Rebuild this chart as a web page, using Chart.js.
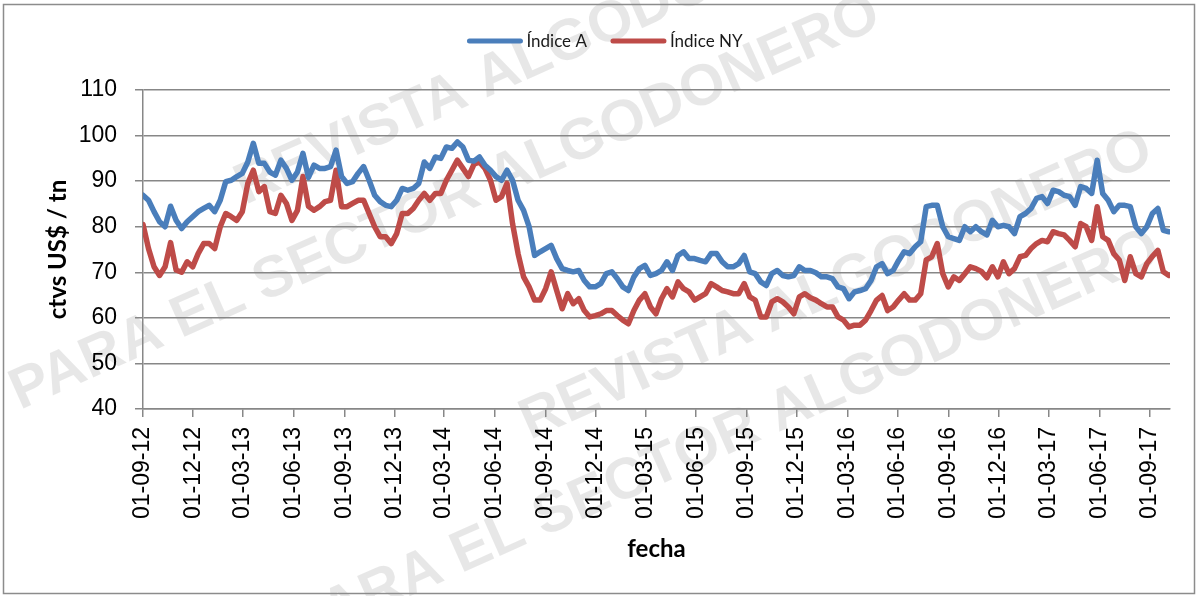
<!DOCTYPE html>
<html><head><meta charset="utf-8">
<script src="https://cdn.jsdelivr.net/npm/chart.js@4.4.1/dist/chart.umd.min.js"></script>
<style>html,body{margin:0;padding:0;background:#fff;}canvas{display:block;}</style>
</head><body>
<canvas id="c" width="1198" height="596"></canvas>
<script>
// ---- data ----
const startDate = '2012-09-01';   // first sample
const stepDays = 10;              // samples every 10 days
const indiceA = [86.9,85.8,83.3,81.1,80.0,84.5,81.4,79.6,81.1,82.2,83.3,84.0,84.7,83.3,85.8,89.9,90.2,91.0,91.7,94.2,
98.3,93.9,93.9,92.0,91.3,94.6,92.8,90.2,92.0,96.1,90.8,93.5,92.8,92.8,93.2,96.8,91.0,89.5,89.9,91.7,
93.2,90.2,86.9,85.5,84.7,84.4,85.8,88.4,88.0,88.4,89.5,94.2,92.8,95.3,95.0,97.5,97.2,98.6,97.5,94.6,
94.4,95.3,93.5,92.4,91.0,90.2,92.4,90.2,85.8,83.6,80.0,73.7,74.5,75.2,75.9,73.0,70.8,70.4,70.1,70.4,
68.2,66.8,66.8,67.5,69.7,70.1,68.6,66.8,66.0,69.0,70.8,71.5,69.3,69.7,70.4,72.3,70.4,73.7,74.5,73.0,
73.0,72.6,72.3,74.1,74.1,72.3,71.2,71.2,71.9,73.7,70.1,69.7,67.9,67.1,69.7,70.4,69.3,69.0,69.3,71.2,
70.4,70.4,69.9,69.0,69.0,68.6,66.8,66.4,64.2,65.7,66.0,66.4,68.2,71.2,71.9,69.7,70.4,72.6,74.5,74.1,
75.6,76.7,84.4,84.7,84.7,80.0,77.8,77.4,77.0,80.0,78.9,80.0,78.9,78.2,81.4,80.0,80.3,80.0,78.5,82.2,
82.9,84.0,86.2,86.6,85.1,88.0,87.7,86.9,86.6,84.7,88.8,88.4,87.3,94.6,87.3,85.8,83.3,84.7,84.7,84.4,
80.0,78.5,80.0,82.9,84.0,79.2,78.9];
const indiceNY = [80.5,75.2,71.2,69.3,71.2,76.5,70.5,70.0,72.3,71.2,74.1,76.3,76.3,75.2,80.0,82.9,82.2,81.4,83.3,89.5,
92.4,87.7,88.8,83.3,82.9,86.9,85.1,81.4,83.6,91.0,84.5,83.6,84.4,85.5,85.8,92.4,84.4,84.4,85.1,85.8,
85.8,82.9,80.0,77.8,77.8,76.3,78.5,82.9,82.9,84.0,85.8,87.3,85.8,87.3,87.3,90.2,92.4,94.6,92.8,91.0,
93.7,94.2,92.8,90.2,85.8,86.6,89.5,80.7,74.1,69.0,66.8,63.9,63.9,66.4,70.1,66.0,62.0,65.3,63.1,64.2,
61.6,60.2,60.5,60.9,61.6,61.6,60.5,59.5,58.7,61.6,63.9,65.3,62.4,60.9,64.2,66.4,64.6,67.9,66.4,65.7,
63.9,64.6,65.3,67.5,66.8,66.0,65.7,65.3,65.3,67.5,64.6,63.9,60.2,60.2,63.5,64.2,63.5,62.4,60.9,64.6,
65.3,64.4,63.9,63.1,62.4,62.4,60.2,59.5,58.0,58.4,58.4,59.5,61.6,63.9,64.9,61.6,62.4,63.9,65.3,63.9,
63.9,65.3,72.7,73.4,76.3,69.7,66.8,69.0,68.2,69.7,71.2,70.8,70.2,68.8,71.2,69.0,72.3,69.7,70.8,73.4,
73.7,75.2,76.3,77.0,76.7,78.9,78.5,78.2,77.0,75.6,80.7,80.0,77.0,84.4,77.8,77.0,74.1,72.7,68.2,73.4,
69.7,69.0,71.9,73.5,74.8,70.1,69.3];
const tickLabels = ['01-09-12','01-12-12','01-03-13','01-06-13','01-09-13','01-12-13','01-03-14','01-06-14',
'01-09-14','01-12-14','01-03-15','01-06-15','01-09-15','01-12-15','01-03-16','01-06-16','01-09-16',
'01-12-16','01-03-17','01-06-17','01-09-17'];
const seriesNames = ['Índice A','Índice NY'];
const yMin = 40, yMax = 110, yStep = 10;
const watermarkLines = ['REVISTA ALGODONERO', 'PARA EL SECTOR ALGODONERO'];

// ---- helpers ----
const DAY = 86400000;
const t0 = Date.parse(startDate + 'T00:00:00Z');
function labelToDay(s){ const [d,m,y] = s.split('-').map(Number); return Math.round((Date.UTC(2000+y, m-1, d) - t0)/DAY); }
const tickDays = tickLabels.map(labelToDay);
const xs = indiceA.map((_, i) => i * stepDays);
const ptsA = indiceA.map((v, i) => ({x: xs[i], y: v}));
const ptsNY = indiceNY.map((v, i) => ({x: xs[i], y: v}));

const GRAY = '#878787';
const BLUE = '#4a7ebb';
const RED = '#be4b48';

const watermark = {
  id: 'watermark',
  beforeDraw(chart){
    const ctx = chart.ctx; ctx.save();
    ctx.font = 'bold 58px "Liberation Sans", Arial';
    ctx.fillStyle = 'rgba(0,0,0,0.095)';
    ctx.textBaseline = 'alphabetic';
    const ang = -24 * Math.PI / 180;
    const spots = [[245, 205, 0], [20, 410, 1], [530, 440, 0], [300, 645, 1]];
    spots.forEach(([x, y, k]) => {
      ctx.save(); ctx.translate(x, y); ctx.rotate(ang);
      ctx.fillText(watermarkLines[k], 0, 0);
      ctx.restore();
    });
    ctx.restore();
  }
};
const frame = {
  id: 'frame',
  afterDraw(chart){
    const ctx = chart.ctx; ctx.save();
    ctx.strokeStyle = '#8c8c8c'; ctx.lineWidth = 1.5;
    ctx.strokeRect(3.5, 4.5, 1191, 589);
    ctx.restore();
  }
};
const customLegend = {
  id: 'customLegend',
  afterDraw(chart){
    const ctx = chart.ctx; ctx.save();
    ctx.font = '17px Lato';
    ctx.textBaseline = 'middle';
    const lineW = 55, gapText = 4, gapItem = 24, y = 41;
    const items = chart.data.datasets.map(d => ({label: d.label, color: d.borderColor, w: lineW + gapText + ctx.measureText(d.label).width}));
    const total = items.reduce((s, it) => s + it.w, 0) + gapItem * (items.length - 1);
    let x = 605 - total / 2;
    items.forEach(it => {
      ctx.strokeStyle = it.color; ctx.lineWidth = 5; ctx.lineCap = 'round';
      ctx.beginPath(); ctx.moveTo(x + 2, y); ctx.lineTo(x + lineW - 2, y); ctx.stroke();
      ctx.fillStyle = '#1a1a1a';
      ctx.fillText(it.label, x + lineW + gapText, y + 1);
      x += it.w + gapItem;
    });
    ctx.restore();
  }
};

new Chart(document.getElementById('c'), {
  type: 'line',
  data: {
    datasets: [
      {label: seriesNames[0], data: ptsA, borderColor: BLUE, backgroundColor: BLUE, borderWidth: 5.5, pointRadius: 0, tension: 0, borderJoinStyle: 'round', borderCapStyle: 'round'},
      {label: seriesNames[1], data: ptsNY, borderColor: RED, backgroundColor: RED, borderWidth: 5.5, pointRadius: 0, tension: 0, borderJoinStyle: 'round', borderCapStyle: 'round'}
    ]
  },
  options: {
    responsive: false,
    animation: false,
    events: [],
    layout: {padding: {left: 6, right: 28, top: 90, bottom: 6}},
    plugins: {legend: {display: false}, tooltip: {enabled: false}},
    scales: {
      x: {
        type: 'linear', min: 0, max: 1862,
        afterBuildTicks: s => { s.ticks = tickDays.map(v => ({value: v})); },
        afterFit: s => { s.height = 596 - 6 - 409; },
        ticks: {
          autoSkip: false, maxRotation: 90, minRotation: 90, padding: 10,
          color: '#000', font: {family: '"Liberation Sans", Arial', size: 23},
          callback: (v, i) => tickLabels[i]
        },
        grid: {drawOnChartArea: false, drawTicks: true, tickLength: 8, color: GRAY, lineWidth: 1.5},
        border: {display: true, color: GRAY, width: 1.5},
        title: {display: true, text: 'fecha', color: '#000', font: {family: 'Lato', size: 24, weight: 'bold'}, padding: {top: 0, bottom: 26}}
      },
      y: {
        min: yMin, max: yMax,
        afterFit: s => { s.width = 143 - 6; },
        ticks: {stepSize: yStep, padding: 18, color: '#000', font: {family: '"Liberation Sans", Arial', size: 23}},
        grid: {color: GRAY, lineWidth: 1.5, tickLength: 8, drawTicks: true},
        border: {display: true, color: GRAY, width: 1.5},
        title: {display: true, text: 'ctvs US$ / tn', color: '#000', font: {family: 'Lato', size: 24, weight: 'bold'}, padding: {top: 38, bottom: 0}}
      }
    }
  },
  plugins: [watermark, frame, customLegend]
});
</script>
</body></html>
